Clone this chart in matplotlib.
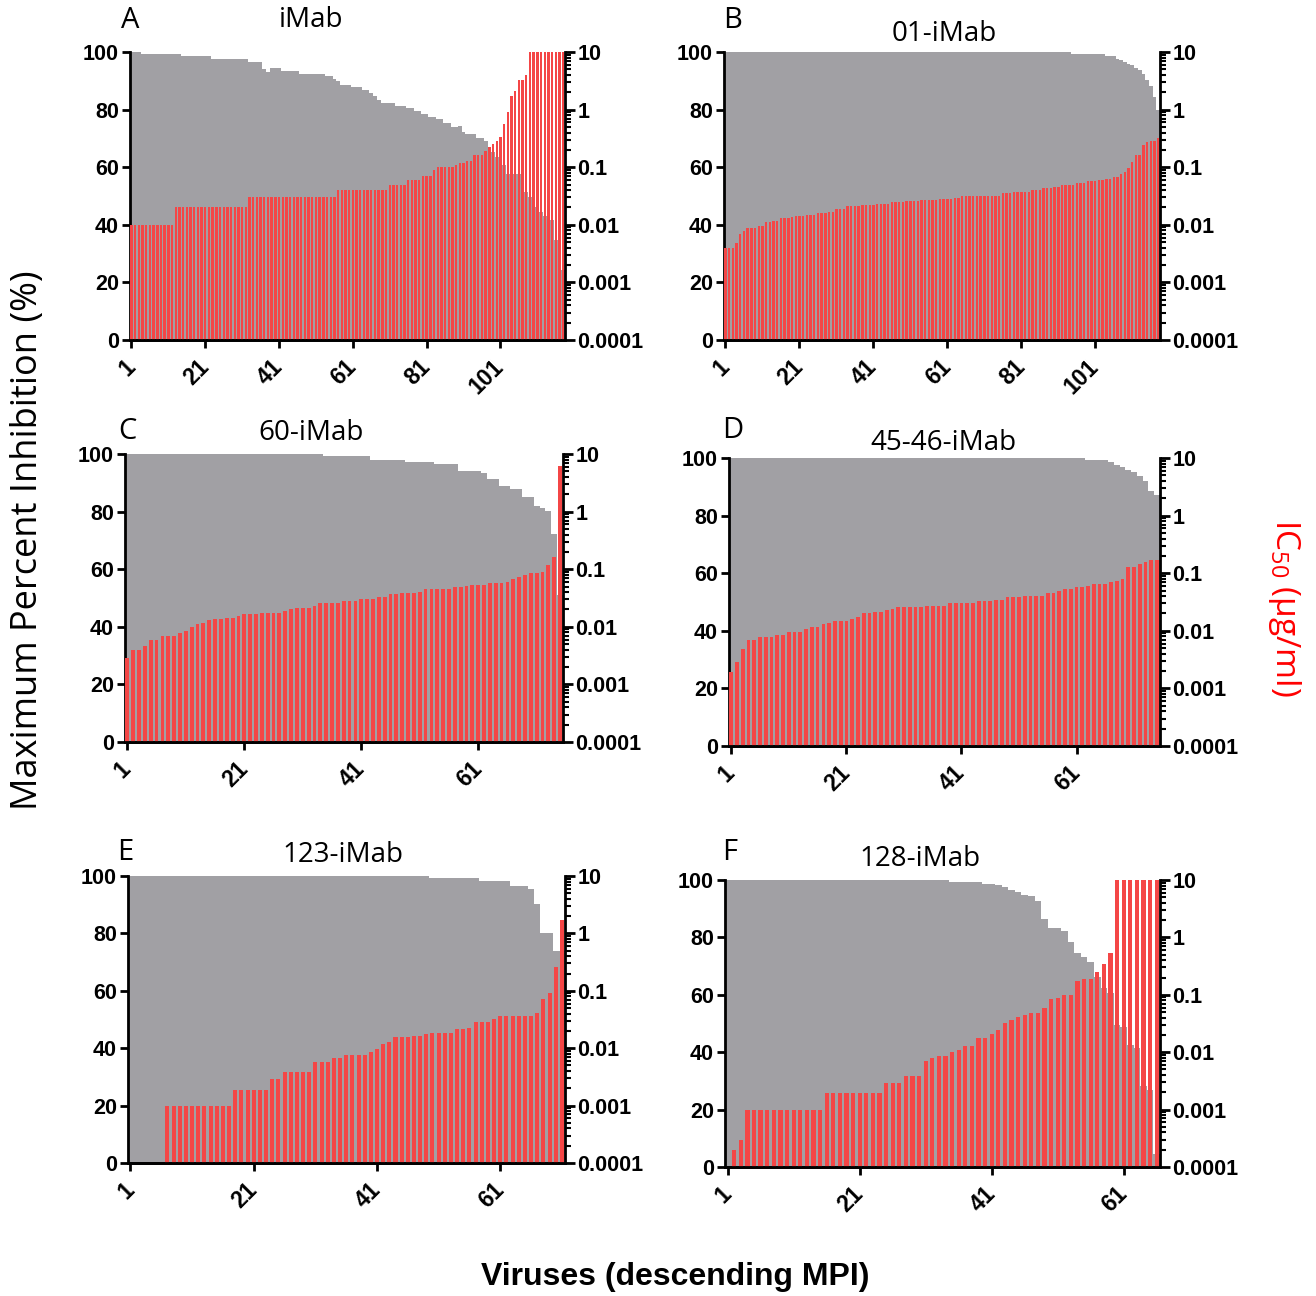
import numpy as np
import matplotlib
matplotlib.use("Agg")
import matplotlib.pyplot as plt
from matplotlib.ticker import FixedLocator, FixedFormatter, LogLocator, NullFormatter

# maximum percent inhibition (gray) and IC50 in ug/ml (red), per virus
mpi_imab = [
    100, 100, 100, 99.4, 99.4, 99.4, 99.4, 99.4, 99.4, 99.4,
    99.4, 99.4, 99.4, 99.4, 98.5, 98.5, 98.5, 98.5, 98.5, 98.5,
    98.5, 98.5, 97.4, 97.4, 97.4, 97.4, 97.4, 97.4, 97.4, 97.4,
    97.4, 97.4, 96.6, 96.6, 96.6, 96.6, 94.0, 93.1, 94.3, 94.3,
    94.3, 93.4, 93.4, 93.4, 93.4, 93.4, 92.4, 92.4, 92.4, 92.4,
    92.4, 92.4, 92.4, 91.6, 91.6, 90.5, 89.9, 88.7, 88.7, 88.7,
    87.8, 87.8, 87.8, 86.7, 86.7, 85.9, 84.7, 83.2, 82.4, 82.4,
    82.4, 82.4, 81.3, 81.3, 81.3, 80.5, 80.5, 79.5, 79.5, 78.4,
    78.4, 77.5, 77.5, 76.7, 76.7, 75.5, 75.5, 74.0, 74.0, 74.4,
    72.1, 71.5, 71.5, 71.5, 70.3, 70.3, 69.2, 66.9, 65.2, 63.4,
    62.5, 60.6, 57.7, 57.7, 57.7, 57.7, 57.7, 51.4, 49.7, 46.8,
    46.2, 44.5, 43.0, 41.6, 41.6, 34.7, 34.7, 24.4]
ic50_imab = [
    0.01, 0.01, 0.01, 0.01, 0.01, 0.01, 0.01, 0.01, 0.01, 0.01,
    0.01, 0.01, 0.02, 0.02, 0.02, 0.02, 0.02, 0.02, 0.02, 0.02,
    0.02, 0.02, 0.02, 0.02, 0.02, 0.02, 0.02, 0.02, 0.02, 0.02,
    0.02, 0.02, 0.03, 0.03, 0.03, 0.03, 0.03, 0.03, 0.03, 0.03,
    0.03, 0.03, 0.03, 0.03, 0.03, 0.03, 0.03, 0.03, 0.03, 0.03,
    0.03, 0.03, 0.03, 0.03, 0.03, 0.03, 0.04, 0.04, 0.04, 0.04,
    0.04, 0.04, 0.04, 0.04, 0.04, 0.04, 0.04, 0.04, 0.04, 0.04,
    0.05, 0.05, 0.05, 0.05, 0.05, 0.06, 0.06, 0.06, 0.06, 0.07,
    0.07, 0.07, 0.088, 0.1, 0.1, 0.1, 0.1, 0.1, 0.11, 0.12,
    0.12, 0.13, 0.13, 0.16, 0.16, 0.16, 0.19, 0.22, 0.25, 0.28,
    0.33, 0.56, 0.9, 1.7, 2.1, 3.3, 3.3, 4.0, 10, 10,
    10, 10, 10, 10, 10, 10, 10, 10]

mpi_01 = [
    100, 100, 100, 100, 100, 100, 100, 100, 100, 100,
    100, 100, 100, 100, 100, 100, 100, 100, 100, 100,
    100, 100, 100, 100, 100, 100, 100, 100, 100, 100,
    100, 100, 100, 100, 100, 100, 100, 100, 100, 100,
    100, 100, 100, 100, 100, 100, 100, 100, 100, 100,
    100, 100, 100, 100, 100, 100, 100, 100, 100, 100,
    100, 100, 100, 100, 100, 100, 100, 100, 100, 100,
    100, 100, 100, 100, 100, 100, 100, 100, 100, 100,
    100, 100, 100, 100, 100, 100, 100, 100, 100, 100,
    100, 100, 100, 100, 99.4, 99.4, 99.4, 99.4, 99.4, 99.4,
    99.4, 99.4, 99.4, 98.5, 98.5, 98.5, 97.7, 97.1, 96.5, 96.0,
    95.4, 94.5, 93.6, 92.3, 90.2, 88.1, 84.4, 80.0]
ic50_01 = [
    0.0039, 0.0039, 0.0039, 0.0048, 0.0068, 0.0078, 0.0087, 0.0087, 0.0087, 0.0095,
    0.0095, 0.011, 0.011, 0.0115, 0.0115, 0.0129, 0.0129, 0.0129, 0.0135, 0.0145,
    0.0145, 0.0145, 0.015, 0.015, 0.015, 0.016, 0.016, 0.016, 0.017, 0.017,
    0.019, 0.019, 0.019, 0.021, 0.021, 0.021, 0.021, 0.022, 0.022, 0.022,
    0.022, 0.023, 0.023, 0.023, 0.023, 0.0245, 0.0245, 0.0245, 0.0245, 0.026,
    0.026, 0.026, 0.026, 0.027, 0.027, 0.027, 0.027, 0.027, 0.0275, 0.0275,
    0.0275, 0.0275, 0.0295, 0.0295, 0.031, 0.031, 0.031, 0.031, 0.031, 0.031,
    0.031, 0.031, 0.032, 0.032, 0.032, 0.035, 0.035, 0.035, 0.037, 0.037,
    0.037, 0.037, 0.037, 0.040, 0.040, 0.040, 0.043, 0.043, 0.043, 0.046,
    0.046, 0.050, 0.050, 0.050, 0.050, 0.054, 0.054, 0.054, 0.058, 0.058,
    0.058, 0.059, 0.059, 0.063, 0.063, 0.068, 0.068, 0.076, 0.083, 0.095,
    0.123, 0.162, 0.162, 0.245, 0.27, 0.29, 0.29, 0.32]

mpi_60 = [
    100, 100, 100, 100, 100, 100, 100, 100, 100, 100,
    100, 100, 100, 100, 100, 100, 100, 100, 100, 100,
    100, 100, 100, 100, 100, 100, 100, 100, 100, 100,
    100, 100, 100, 100, 99.2, 99.2, 99.2, 99.2, 99.2, 99.2,
    99.2, 99.2, 98.0, 98.0, 98.0, 98.0, 98.0, 98.0, 97.1, 97.1,
    97.1, 97.1, 97.1, 96.5, 96.5, 96.5, 96.5, 94.0, 94.0, 94.0,
    94.0, 93.3, 91.3, 91.3, 89.0, 89.0, 88.0, 88.0, 85.0, 85.0,
    82.0, 81.3, 80.3, 72.3, 51.0]
ic50_60 = [
    0.0029, 0.0039, 0.0039, 0.0047, 0.0058, 0.0058, 0.0068, 0.0068, 0.0068, 0.0078,
    0.0086, 0.0099, 0.011, 0.0117, 0.0129, 0.0136, 0.0136, 0.0143, 0.0143, 0.0153,
    0.0164, 0.0164, 0.0164, 0.0173, 0.0173, 0.0173, 0.0173, 0.0185, 0.0205, 0.0216,
    0.0216, 0.0216, 0.0231, 0.0257, 0.0257, 0.0257, 0.0257, 0.0275, 0.0275, 0.0275,
    0.0306, 0.0306, 0.0306, 0.0327, 0.0327, 0.0364, 0.0364, 0.0384, 0.0384, 0.0384,
    0.041, 0.0456, 0.0456, 0.0456, 0.0456, 0.0456, 0.0488, 0.0488, 0.052, 0.054,
    0.054, 0.054, 0.057, 0.057, 0.057, 0.061, 0.068, 0.073, 0.078, 0.086,
    0.086, 0.091, 0.116, 0.166, 6.3]

mpi_4546 = [
    100, 100, 100, 100, 100, 100, 100, 100, 100, 100,
    100, 100, 100, 100, 100, 100, 100, 100, 100, 100,
    100, 100, 100, 100, 100, 100, 100, 100, 100, 100,
    100, 100, 100, 100, 100, 100, 100, 100, 100, 100,
    100, 100, 100, 100, 100, 100, 100, 100, 100, 100,
    100, 100, 100, 100, 100, 100, 100, 100, 100, 100,
    100, 100, 99.2, 99.2, 99.2, 99.2, 98.6, 97.7, 96.9, 96.0,
    95.0, 93.6, 91.9, 88.4, 87.0]
ic50_4546 = [
    0.0019, 0.0029, 0.0048, 0.0069, 0.0069, 0.0077, 0.0077, 0.0077, 0.0084, 0.0084,
    0.0096, 0.0096, 0.0096, 0.0107, 0.0115, 0.0115, 0.0129, 0.0138, 0.0148, 0.0148,
    0.0148, 0.0158, 0.0171, 0.0206, 0.0206, 0.0215, 0.0215, 0.023, 0.0236, 0.0255,
    0.0255, 0.0255, 0.0255, 0.0255, 0.0269, 0.0269, 0.0269, 0.0269, 0.0308, 0.0308,
    0.0308, 0.0308, 0.0308, 0.0329, 0.0329, 0.0329, 0.0343, 0.0343, 0.0381, 0.0381,
    0.0381, 0.0407, 0.0407, 0.0407, 0.0407, 0.046, 0.046, 0.0498, 0.053, 0.053,
    0.057, 0.057, 0.06, 0.065, 0.065, 0.065, 0.069, 0.074, 0.08, 0.13,
    0.13, 0.145, 0.155, 0.17, 0.17]

mpi_123 = [
    100, 100, 100, 100, 100, 100, 100, 100, 100, 100,
    100, 100, 100, 100, 100, 100, 100, 100, 100, 100,
    100, 100, 100, 100, 100, 100, 100, 100, 100, 100,
    100, 100, 100, 100, 100, 100, 100, 100, 100, 100,
    100, 100, 100, 100, 100, 100, 100, 100, 100, 99.3,
    99.3, 99.3, 99.3, 99.3, 99.3, 99.3, 99.3, 98.3, 98.3, 98.3,
    98.3, 98.3, 96.4, 96.4, 96.4, 95.4, 90.4, 80.2, 80.2, 74.0,
    74.0]
ic50_123 = [
    np.nan, np.nan, np.nan, np.nan, np.nan, np.nan, 0.001, 0.001, 0.001, 0.001,
    0.001, 0.001, 0.001, 0.001, 0.001, 0.001, 0.001, 0.0019, 0.0019, 0.0019,
    0.0019, 0.0019, 0.0019, 0.0029, 0.0029, 0.0038, 0.0038, 0.0038, 0.0038, 0.0038,
    0.0058, 0.0058, 0.0058, 0.0068, 0.0068, 0.0076, 0.0076, 0.0076, 0.0076, 0.0087,
    0.0098, 0.0117, 0.013, 0.0155, 0.0155, 0.0155, 0.0162, 0.0162, 0.0178, 0.0182,
    0.0182, 0.0182, 0.0182, 0.0214, 0.0214, 0.0229, 0.029, 0.029, 0.029, 0.032,
    0.037, 0.037, 0.037, 0.037, 0.037, 0.037, 0.041, 0.071, 0.093, 0.26,
    1.7]

mpi_128 = [
    100, 100, 100, 100, 100, 100, 100, 100, 100, 100,
    100, 100, 100, 100, 100, 100, 100, 100, 100, 100,
    100, 100, 100, 100, 100, 100, 100, 100, 100, 100,
    100, 100, 100, 100, 99.2, 99.2, 99.2, 99.2, 99.2, 98.6,
    98.6, 98.3, 97.5, 96.5, 95.7, 94.9, 94.3, 92.6, 86.5, 83.4,
    83.4, 82.4, 78.4, 74.6, 73.2, 71.5, 66.2, 62.2, 60.5, 49.5,
    48.9, 42.5, 41.6, 28.2, 26.9, 4.4]
ic50_128 = [
    np.nan, 0.000195, 0.000295, 0.001, 0.001, 0.001, 0.001, 0.001, 0.001, 0.001,
    0.001, 0.001, 0.001, 0.001, 0.001, 0.00195, 0.00195, 0.00195, 0.00195, 0.00195,
    0.00195, 0.00195, 0.00195, 0.00195, 0.0029, 0.0029, 0.0029, 0.0039, 0.0039, 0.0039,
    0.0069, 0.0079, 0.0087, 0.0087, 0.010, 0.011, 0.0129, 0.0129, 0.018, 0.018,
    0.021, 0.0245, 0.032, 0.036, 0.041, 0.044, 0.049, 0.049, 0.058, 0.083,
    0.087, 0.098, 0.098, 0.174, 0.186, 0.19, 0.245, 0.34, 0.54, 10,
    10, 10, 10, 10, 10, 10]

panel_letters = ["A", "B", "C", "D", "E", "F"]
panel_titles = ["iMab", "01-iMab", "60-iMab", "45-46-iMab", "123-iMab", "128-iMab"]
ic50_ticks = [0.0001, 0.001, 0.01, 0.1, 1, 10]
ic50_ticklabels = ["0.0001", "0.001", "0.01", "0.1", "1", "10"]

GRAY = "#a1a0a4"
RED = "#f44646"
W, H = 1316, 1296
TICKFONT = dict(family="Liberation Sans", weight="bold", size=15.5)
XTICKFONT = dict(family="Liberation Sans", weight="bold", size=16.5)
TEXTFONT = "Open Sans"


def fx(x):
    return x / W


def fy(y):
    return 1 - y / H


def draw_panel(fig, box, mpi, ic50, letter, title, letter_xy, title_xy):
    l, t, r, b = box
    ax = fig.add_axes([fx(l), fy(b), (r - l) / W, (b - t) / H])
    n = len(mpi)
    x = np.arange(1, n + 1)

    # gray bars: MPI on the left axis
    ax.bar(x, mpi, width=1.0, color=GRAY, linewidth=0, antialiased=False)
    ax.set_ylim(0, 100)
    ax.set_xlim(0.6, n + 0.5)
    ax.set_yticks([0, 20, 40, 60, 80, 100])
    ax.set_xticks(np.arange(1, n + 1, 20))
    for s in ["top", "right"]:
        ax.spines[s].set_visible(False)
    for s in ["left", "bottom"]:
        ax.spines[s].set_linewidth(2.0)
    ax.tick_params(axis="both", direction="out", length=6, width=2.0, pad=2)
    for lab in ax.get_yticklabels():
        lab.set_fontproperties(TICKFONT)
    ax.set_xticklabels([str(v) for v in np.arange(1, n + 1, 20)],
                       rotation=45, ha="right", va="center", rotation_mode="anchor")
    for lab in ax.get_xticklabels():
        lab.set_fontproperties(XTICKFONT)
    ax.tick_params(axis="x", pad=11)

    # red bars: IC50 on the log right axis
    ax2 = ax.twinx()
    ax2.set_yscale("log")
    ic = np.array(ic50, dtype=float)
    ok = ~np.isnan(ic)
    ax2.bar(x[ok], ic[ok] - 1e-4, bottom=1e-4, width=0.65, color=RED, linewidth=0)
    ax2.set_ylim(1e-4, 10)
    ax2.yaxis.set_major_locator(FixedLocator(ic50_ticks))
    ax2.yaxis.set_major_formatter(FixedFormatter(ic50_ticklabels))
    ax2.yaxis.set_minor_locator(LogLocator(base=10, subs=np.arange(2, 10), numticks=20))
    ax2.yaxis.set_minor_formatter(NullFormatter())
    for s in ["top", "left"]:
        ax2.spines[s].set_visible(False)
    for s in ["right", "bottom"]:
        ax2.spines[s].set_linewidth(2.0)
    ax2.tick_params(axis="y", which="major", direction="out", length=7, width=2.0, pad=2)
    ax2.tick_params(axis="y", which="minor", direction="out", length=4, width=1.5)
    for lab in ax2.get_yticklabels():
        lab.set_fontproperties(TICKFONT)

    fig.text(fx(letter_xy[0]), fy(letter_xy[1]), letter, family=TEXTFONT,
             fontsize=21, ha="center", va="center")
    fig.text(fx(title_xy[0]), fy(title_xy[1]), title, family=TEXTFONT,
             fontsize=20, ha="center", va="center")


def main():
    fig = plt.figure(figsize=(13.16, 12.96), dpi=100)

    boxes = [(130, 52, 565, 340), (724, 52, 1160, 340),
             (125, 454, 563, 742), (729, 458, 1160, 746),
             (128, 876, 565, 1163), (725, 880, 1160, 1167)]
    letter_pos = [(130, 20), (733, 20), (127, 432), (733, 430), (125, 852), (730, 852)]
    title_pos = [(311, 20), (944, 34), (311, 433), (943, 443), (343, 855), (920, 859)]
    mpis = [mpi_imab, mpi_01, mpi_60, mpi_4546, mpi_123, mpi_128]
    ic50s = [ic50_imab, ic50_01, ic50_60, ic50_4546, ic50_123, ic50_128]

    for i in range(6):
        draw_panel(fig, boxes[i], mpis[i], ic50s[i], panel_letters[i], panel_titles[i],
                   letter_pos[i], title_pos[i])

    fig.text(fx(28), fy(540), "Maximum Percent Inhibition (%)", family=TEXTFONT,
             fontsize=26, rotation=90, ha="center", va="center")
    fig.text(fx(1285), fy(608), "IC$_{50}$ (\u00b5g/ml)", family=TEXTFONT, color="red",
             fontsize=24, rotation=270, ha="center", va="center")
    fig.text(fx(675), fy(1277), "Viruses (descending MPI)", family="Liberation Sans",
             weight="bold", fontsize=23, ha="center", va="center")

    fig.savefig("out.png", dpi=100)


if __name__ == "__main__":
    plt.rcParams["mathtext.fontset"] = "custom"
    plt.rcParams["mathtext.rm"] = "Open Sans"
    plt.rcParams["mathtext.it"] = "Open Sans"
    main()
